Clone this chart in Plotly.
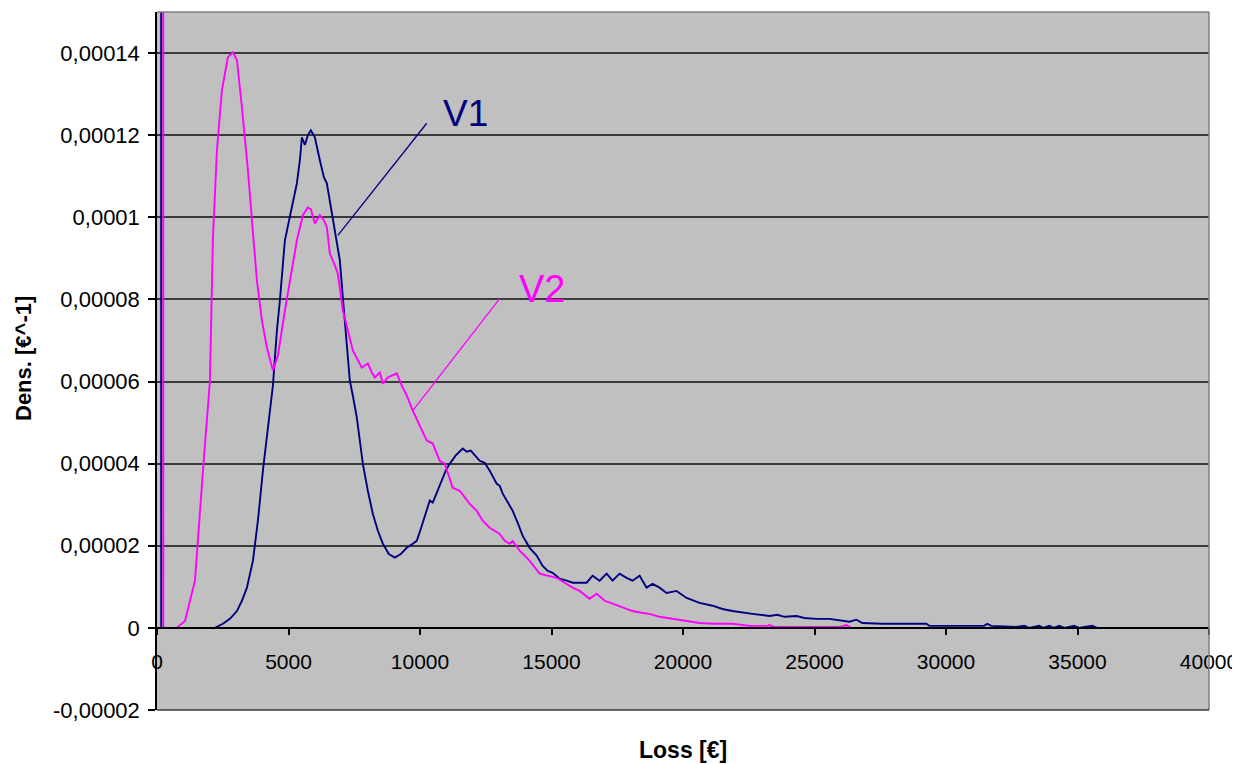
import plotly.graph_objects as go

# ---------------- data ----------------
v1_loss = [150, 160, 2200, 2507, 2773, 3039, 3229, 3419, 3647, 3837, 4027, 4217, 4407, 4559, 4673,
           4863, 5053, 5319, 5433, 5509, 5623, 5737, 5851, 6002, 6192, 6344, 6458, 6572, 6724, 6838,
           6952, 7066, 7218, 7332, 7446, 7598, 7712, 7826, 8016, 8206, 8396, 8586, 8814, 9042, 9270,
           9497, 9725, 9877, 10029, 10181, 10371, 10485, 10637, 10789, 10979, 11131, 11359, 11625,
           11777, 11929, 12119, 12271, 12461, 12651, 12917, 13031, 13145, 13297, 13525, 13715, 13905,
           14170, 14436, 14664, 14854, 15044, 15310, 15576, 15804, 16336, 16564, 16830, 17096, 17323,
           17589, 17855, 18083, 18349, 18615, 18843, 19109, 19375, 19755, 20135, 20629, 21123, 21503,
           21882, 22262, 22642, 23287, 23591, 23857, 24313, 24617, 25073, 25567, 26061, 26327, 26593,
           26821, 27581, 29252, 29366, 31455, 31569, 31721, 32671, 32975, 33165, 33545, 33700, 33925,
           34100, 34305, 34500, 34875, 35050, 35559, 35750, 40000]
v1_dens = [6e-4, 0, 0, 1.0e-6, 2.2e-6, 4.1e-6, 6.6e-6, 9.8e-6, 1.63e-5, 2.61e-5, 3.83e-5, 4.93e-5, 5.9e-5,
           7.24e-5, 7.98e-5, 9.44e-5, 1.0e-4, 1.083e-4, 1.139e-4, 1.195e-4, 1.176e-4, 1.2e-4, 1.212e-4,
           1.195e-4, 1.139e-4, 1.098e-4, 1.083e-4, 1.041e-4, 9.8e-5, 9.44e-5, 8.95e-5, 8.05e-5, 7.0e-5,
           6.02e-5, 5.66e-5, 5.12e-5, 4.56e-5, 4.0e-5, 3.34e-5, 2.78e-5, 2.37e-5, 2.05e-5, 1.8e-5,
           1.71e-5, 1.8e-5, 1.95e-5, 2.05e-5, 2.12e-5, 2.41e-5, 2.73e-5, 3.1e-5, 3.05e-5, 3.29e-5,
           3.51e-5, 3.83e-5, 4.0e-5, 4.2e-5, 4.37e-5, 4.29e-5, 4.32e-5, 4.17e-5, 4.07e-5, 4.02e-5,
           3.83e-5, 3.51e-5, 3.46e-5, 3.27e-5, 3.1e-5, 2.85e-5, 2.56e-5, 2.24e-5, 1.95e-5, 1.76e-5,
           1.51e-5, 1.39e-5, 1.34e-5, 1.2e-5, 1.15e-5, 1.1e-5, 1.1e-5, 1.27e-5, 1.15e-5, 1.32e-5,
           1.15e-5, 1.32e-5, 1.22e-5, 1.15e-5, 1.27e-5, 9.8e-6, 1.07e-5, 9.8e-6, 8.5e-6, 9.0e-6,
           7.3e-6, 6.1e-6, 5.4e-6, 4.6e-6, 4.1e-6, 3.7e-6, 3.4e-6, 2.9e-6, 3.2e-6, 2.7e-6, 2.9e-6,
           2.4e-6, 2.2e-6, 2.2e-6, 1.7e-6, 1.5e-6, 2.0e-6, 1.2e-6, 1.0e-6, 1.0e-6, 5e-7, 5e-7, 1.0e-6,
           5e-7, 2.4e-7, 5e-7, 0, 5e-7, 0, 5e-7, 0, 5e-7, 0, 5e-7, 0, 5e-7, 0, 0]

v2_loss = [230, 240, 750, 1064, 1254, 1444, 1748, 2013, 2127, 2279, 2469, 2697, 2887, 3039, 3229, 3457,
           3609, 3799, 3989, 4179, 4407, 4597, 4863, 5129, 5319, 5547, 5736, 5850, 6002, 6192, 6344,
           6458, 6572, 6762, 6876, 7066, 7256, 7446, 7788, 8016, 8168, 8282, 8472, 8586, 8776, 8950,
           9118, 9308, 9497, 9725, 9991, 10257, 10485, 10751, 10941, 11245, 11511, 11891, 12157, 12385,
           12651, 13031, 13221, 13411, 13525, 13791, 13981, 14170, 14550, 15196, 15500, 15804, 16070,
           16450, 16716, 17020, 17323, 17703, 18083, 18425, 18729, 19109, 19603, 20059, 20629, 21199,
           21882, 22528, 23200, 23287, 23450, 24428, 26000, 26213, 26403, 40000]
v2_dens = [6e-4, 0, 0, 1.7e-6, 6.6e-6, 1.15e-5, 3.83e-5, 6.02e-5, 9.51e-5, 1.163e-4, 1.31e-4, 1.39e-4,
           1.402e-4, 1.383e-4, 1.268e-4, 1.115e-4, 9.93e-5, 8.46e-5, 7.49e-5, 6.83e-5, 6.27e-5, 6.63e-5,
           7.73e-5, 8.71e-5, 9.44e-5, 1.005e-4, 1.024e-4, 1.02e-4, 9.85e-5, 1.005e-4, 9.93e-5, 9.76e-5,
           9.12e-5, 8.83e-5, 8.63e-5, 7.73e-5, 7.24e-5, 6.76e-5, 6.34e-5, 6.44e-5, 6.22e-5, 6.1e-5,
           6.22e-5, 5.95e-5, 6.1e-5, 6.15e-5, 6.2e-5, 5.9e-5, 5.66e-5, 5.29e-5, 4.93e-5, 4.56e-5,
           4.49e-5, 4.07e-5, 4.0e-5, 3.41e-5, 3.34e-5, 3.02e-5, 2.85e-5, 2.61e-5, 2.44e-5, 2.29e-5,
           2.12e-5, 2.05e-5, 2.12e-5, 1.88e-5, 1.76e-5, 1.63e-5, 1.32e-5, 1.22e-5, 1.1e-5, 9.8e-6,
           9.0e-6, 7.1e-6, 8.3e-6, 6.6e-6, 5.9e-6, 4.9e-6, 4.1e-6, 3.7e-6, 3.4e-6, 2.7e-6, 2.2e-6,
           1.7e-6, 1.2e-6, 1.0e-6, 1.0e-6, 5e-7, 5e-7, 7e-7, 2.4e-7, 2.4e-7, 2.4e-7, 7e-7, 0, 0]

y_tickvals = [-0.00002, 0, 0.00002, 0.00004, 0.00006, 0.00008, 0.0001, 0.00012, 0.00014]
y_ticktext = ["-0,00002", "0", "0,00002", "0,00004", "0,00006", "0,00008", "0,0001", "0,00012", "0,00014"]
x_tickvals = [0, 5000, 10000, 15000, 20000, 25000, 30000, 35000, 40000]
x_ticktext = ["0", "5000", "10000", "15000", "20000", "25000", "30000", "35000", "40000"]

series_names = ["V1", "V2"]
series_colors = ["#000080", "#FF00FF"]

Y_MIN, Y_MAX = -0.00002, 0.00015
X_MIN, X_MAX = 0, 40000

FONT = "Liberation Sans, Arial, sans-serif"

# page body has an 8px margin: figure is sized/margined to land the plot area where the reference has it
W, H = 1232, 756
ML, MR, MT, MB = 149, 31, 4, 54
plot_w = W - ML - MR
plot_h = H - MT - MB

fig = go.Figure()
fig.add_trace(go.Scatter(x=v1_loss, y=v1_dens, mode="lines", name=series_names[0],
                         line=dict(color=series_colors[0], width=1.9), hoverinfo="skip"))
fig.add_trace(go.Scatter(x=v2_loss, y=v2_dens, mode="lines", name=series_names[1],
                         line=dict(color=series_colors[1], width=1.9), hoverinfo="skip"))

x_axis_pos = (0 - Y_MIN) / (Y_MAX - Y_MIN)

fig.update_layout(
    width=W, height=H,
    margin=dict(l=ML, r=MR, t=MT, b=MB, autoexpand=False),
    paper_bgcolor="white",
    plot_bgcolor="#C0C0C0",
    showlegend=False,
    font=dict(family=FONT, size=21, color="black"),
    xaxis=dict(
        range=[X_MIN, X_MAX],
        tickvals=x_tickvals, ticktext=x_ticktext,
        showgrid=False, zeroline=False,
        showline=True, linecolor="black", linewidth=1.5,
        ticks="outside", ticklen=6, tickcolor="black", tickwidth=1.5,
        anchor="free", position=x_axis_pos,
        ticklabelstandoff=9,
        tickfont=dict(family=FONT, size=21, color="black"),
    ),
    yaxis=dict(
        range=[Y_MIN, Y_MAX],
        tickvals=y_tickvals, ticktext=y_ticktext,
        showgrid=True, gridcolor="#3a3a3a", gridwidth=1.5,
        zeroline=False,
        showline=True, linecolor="black", linewidth=1.5,
        ticks="outside", ticklen=7, tickcolor="black", tickwidth=1.5,
        ticklabelstandoff=4,
        tickfont=dict(family=FONT, size=22, color="black"),
    ),
)

# plot area border (top / right / bottom grid)
fig.add_shape(type="line", xref="paper", yref="paper", x0=0, x1=1, y0=1, y1=1,
              line=dict(color="#808080", width=1.5))
fig.add_shape(type="line", xref="paper", yref="paper", x0=1, x1=1, y0=0, y1=1,
              line=dict(color="#808080", width=1.5))
fig.add_shape(type="line", xref="paper", yref="paper", x0=0, x1=1, y0=0, y1=0,
              line=dict(color="#3a3a3a", width=1.5))

# leader lines for series labels
fig.add_shape(type="line", xref="x", yref="y", x0=6876, y0=9.56e-5, x1=10257, y1=1.229e-4,
              line=dict(color=series_colors[0], width=1.3))
fig.add_shape(type="line", xref="x", yref="y", x0=9725, y0=5.29e-5, x1=13031, y1=8.02e-5,
              line=dict(color=series_colors[1], width=1.3))

fig.add_annotation(x=11739, y=1.2537e-4, xref="x", yref="y", text=series_names[0], showarrow=False,
                   xanchor="center", yanchor="middle",
                   font=dict(family=FONT, size=37, color=series_colors[0]))
fig.add_annotation(x=14626, y=8.244e-5, xref="x", yref="y", text=series_names[1], showarrow=False,
                   xanchor="center", yanchor="middle",
                   font=dict(family=FONT, size=38, color=series_colors[1]))

# axis titles (target screen centres: x title at (683, 750), y title at (23, 359))
fig.add_annotation(x=0.5, y=-(750 - 8 - (MT + plot_h)) / plot_h, xref="paper", yref="paper",
                   xanchor="center", yanchor="middle",
                   text="<b>Loss [€]</b>", showarrow=False,
                   font=dict(family=FONT, size=23, color="black"))
fig.add_annotation(x=(23 - 8 - ML) / plot_w, y=1 - (359 - 8 - MT) / plot_h, xref="paper", yref="paper",
                   xanchor="center", yanchor="middle",
                   text="<b>Dens. [€^-1]</b>", showarrow=False, textangle=-90,
                   font=dict(family=FONT, size=22, color="black"))

fig.write_html("out.html")
